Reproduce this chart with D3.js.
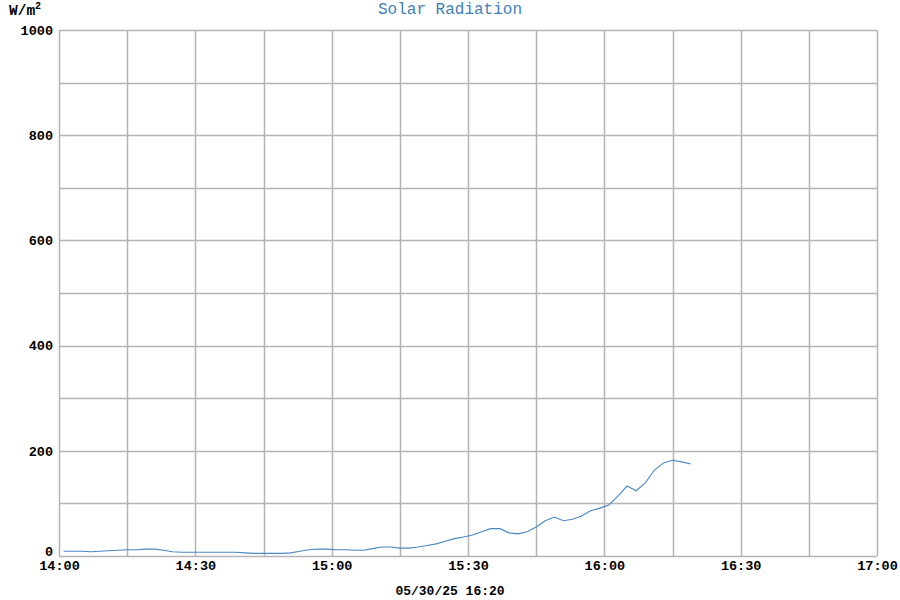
<!DOCTYPE html>
<html>
<head>
<meta charset="utf-8">
<script src="https://cdn.jsdelivr.net/npm/d3@7"></script>
<style>
body { margin: 0; background: #fff; }
svg { display: block; }
text { font-family: "Liberation Mono", "Courier New", monospace; }
</style>
</head>
<body>
<svg id="chart" width="900" height="600"></svg>
<script>
// minutes after 14:00
const minutes = [1,3,5,7,9,11,13,15,17,19,21,23,25,27,29,31,33,35,37,39,41,43,45,47,49,51,53,55,57,59,61,63,65,67,69,71,73,75,77,79,81,83,85,87,89,91,93,95,97,99,101,103,105,107,109,111,113,115,117,119,121,123,125,127,129,131,133,135,137,139];
const radiation = [9,9,9,8,9,10,11,12,12,13,13,11,8,7,7,7,7,7,7,7,6,5,5,5,5,6,9,12,13,13,12,12,11,11,14,17,17,15,15,17,20,23,28,33,36,40,46,52,52,44,42,46,55,67,74,67,70,76,86,91,97,114,133,124,139,163,177,182,179,175];
const xTickLabels = ["14:00","14:30","15:00","15:30","16:00","16:30","17:00"];
const yTicks = [0,200,400,600,800,1000];
const titleText = "Solar Radiation";
const unitText = "W/m";
const footerText = "05/30/25 16:20";

const svg = d3.select("#chart");
const m = {left: 59, right: 877, top: 30, bottom: 556};
const base = new Date(2025, 4, 30, 14, 0);
const toDate = mins => new Date(base.getTime() + mins * 60000);

const x = d3.scaleTime().domain([toDate(0), toDate(180)]).range([m.left, m.right]);
const y = d3.scaleLinear().domain([0, 1000]).range([m.bottom, m.top]);

const grid = svg.append("g");
grid.selectAll("line.v").data(d3.range(0, 181, 15)).join("line")
  .attr("x1", d => Math.round(x(toDate(d))) + 0.5).attr("x2", d => Math.round(x(toDate(d))) + 0.5)
  .attr("y1", m.top).attr("y2", m.bottom)
  .attr("stroke", "#b4b4b4").attr("stroke-width", 1.5);
grid.selectAll("line.h").data(d3.range(0, 1001, 100)).join("line")
  .attr("x1", m.left).attr("x2", m.right)
  .attr("y1", d => Math.round(y(d)) + 0.5).attr("y2", d => Math.round(y(d)) + 0.5)
  .attr("stroke", "#b4b4b4").attr("stroke-width", 1.5);

const xAxis = d3.axisBottom(x).tickValues(d3.range(0, 181, 30).map(toDate))
  .tickFormat((d, i) => xTickLabels[i]).tickSize(0).tickPadding(4);
const gx = svg.append("g").attr("transform", `translate(0,${m.bottom})`).call(xAxis);
gx.select(".domain").remove();
gx.selectAll("text").attr("font-size", 13.5).attr("font-weight", "bold").attr("fill", "#000")
  .style("font-family", "'Liberation Mono', monospace");

const yAxis = d3.axisLeft(y).tickValues(yTicks).tickFormat(d3.format("d")).tickSize(0).tickPadding(6);
const gy = svg.append("g").attr("transform", `translate(${m.left},0)`).call(yAxis);
gy.select(".domain").remove();
gy.selectAll("text").attr("font-size", 13.5).attr("font-weight", "bold").attr("fill", "#000")
  .style("font-family", "'Liberation Mono', monospace");
gy.selectAll(".tick").filter(d => d === 0).select("text").attr("dy", "-0.05em");

const line = d3.line().x((d, i) => x(toDate(minutes[i]))).y(d => y(d));
svg.append("path").datum(radiation)
  .attr("fill", "none").attr("stroke", "#4a88c2").attr("stroke-width", 1.1)
  .attr("d", line);

svg.append("text").attr("x", 450).attr("y", 14).attr("text-anchor", "middle")
  .attr("font-size", 16).attr("fill", "#3f7fb8").text(titleText);

const u = svg.append("text").attr("x", 9).attr("y", 15).attr("font-size", 14.5).attr("font-weight", "bold").attr("fill", "#000");
u.append("tspan").text(unitText);
u.append("tspan").attr("font-size", 10).attr("dy", -6).text("2");

svg.append("text").attr("x", 450).attr("y", 595).attr("text-anchor", "middle")
  .attr("font-size", 13).attr("font-weight", "bold").attr("fill", "#000").text(footerText);
</script>
</body>
</html>
